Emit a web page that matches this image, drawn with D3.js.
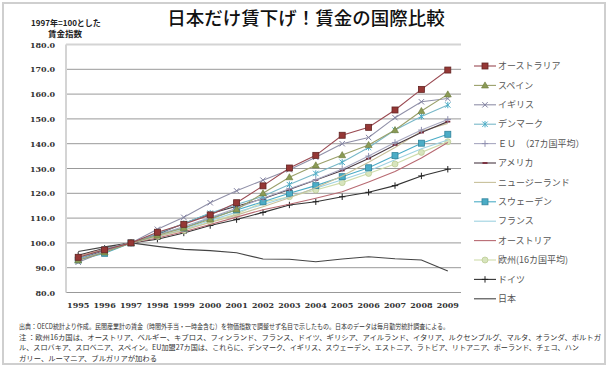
<!DOCTYPE html>
<html><head><meta charset="utf-8">
<script src="https://cdn.jsdelivr.net/npm/d3@7"></script>
<style>
html,body{margin:0;padding:0;background:#fff;}
svg{display:block;}
</style></head>
<body>
<svg id="chart" width="608" height="370"></svg>
<script>
const years = [1995,1996,1997,1998,1999,2000,2001,2002,2003,2004,2005,2006,2007,2008,2009];
const yTicks = [80,90,100,110,120,130,140,150,160,170,180];
const seriesNames = ["オーストラリア","スペイン","イギリス","デンマーク","ＥＵ　（27カ国平均）","アメリカ","ニュージーランド","スウェーデン","フランス","オーストリア","欧州(16カ国平均)","ドイツ","日本"];
const australia = [94.2,97.2,100,104.3,107.5,111.3,116.2,123.0,130.2,135.3,143.4,146.6,153.6,161.9,169.7];
const spain     = [93.0,96.2,100,103.0,106.0,109.5,113.5,120.0,126.5,131.3,135.4,139.5,145.5,153.2,159.9];
const uk        = [92.2,96.5,100,105.5,110.3,116.2,121.0,125.3,129.5,134.5,140.0,142.5,150.5,156.9,158.2];
const denmark   = [93.5,97.5,100,103.8,107.8,112.0,115.5,118.8,123.5,128.0,132.5,138.5,145.5,151.0,155.6];
const eu27      = [93.2,96.6,100,103.2,106.6,110.2,114.0,118.0,121.8,125.5,129.8,135.0,140.5,145.5,149.8];
const usa       = [93.6,96.8,100,103.5,107.8,111.8,114.8,117.8,121.5,125.4,129.2,134.0,139.5,144.5,148.9];
const nz        = [94.4,97.4,100,102.6,105.2,108.2,111.2,114.6,118.2,122.2,127.0,132.5,138.5,145.0,148.2];
const sweden    = [93.1,95.8,100,103.6,106.0,110.0,113.3,116.6,120.0,123.1,126.7,130.3,135.2,140.2,143.8];
const france    = [94.0,97.0,100,102.6,105.5,109.0,112.4,115.5,118.6,122.0,125.5,129.0,133.5,138.0,141.5];
const austria   = [94.6,97.6,100,102.0,104.5,107.4,110.4,113.4,115.6,118.0,120.6,124.6,128.8,134.2,140.5];
const europe16  = [94.0,97.0,100,102.6,105.0,108.5,111.6,116.4,118.6,121.3,124.3,128.0,131.8,136.5,140.8];
const germany   = [95.0,97.8,100,101.5,104.0,107.0,109.4,112.3,115.3,116.6,118.6,120.4,123.1,127.0,129.7];
const japan     = [96.5,98.4,100,98.6,97.4,96.9,96.0,93.5,93.4,92.4,93.5,94.4,93.6,93.1,88.7];
const footLines = [
 "出典：OECD統計より作成。民間産業計の賃金（時間外手当・一時金含む）を物価指数で調整せず名目で示したもの。日本のデータは毎月勤労統計調査による。",
 "注 ：欧州16カ国は、オーストリア、ベルギー、キプロス、フィンランド、フランス、ドイツ、ギリシア、アイルランド、イタリア、ルクセンブルグ、マルタ、オランダ、ポルトガ",
 "ル、スロバキア、スロベニア、スペイン。EU加盟27カ国は、これらに、デンマーク、イギリス、スウェーデン、エストニア、ラトビア、リトアニア、ポーランド、チェコ、ハン",
 "ガリー、ルーマニア、ブルガリアが加わる"
];

const values = [australia,spain,uk,denmark,eu27,usa,nz,sweden,france,austria,europe16,germany,japan];
const styles = [
 {c:"#9a4a52", m:"square", f:"#953735", s:"#632523"},
 {c:"#9aa06a", m:"triangle", f:"#8a9a55", s:"#6b7a3a"},
 {c:"#9090a8", m:"x", f:"none", s:"#8080a0"},
 {c:"#78b8c8", m:"star", f:"none", s:"#4bacc6"},
 {c:"#a8a8c0", m:"plus", f:"none", s:"#9090b0"},
 {c:"#4a3a44", m:"dash", f:"#7b2c3b", s:"#7b2c3b"},
 {c:"#c8c09a", m:null},
 {c:"#4bacc6", m:"square", f:"#4bacc6", s:"#31849b"},
 {c:"#9ed2e0", m:null},
 {c:"#b86a72", m:null},
 {c:"#cfdcab", m:"circle", f:"#d7e4bd", s:"#b8c88c"},
 {c:"#333333", m:"plus", f:"none", s:"#222"},
 {c:"#444444", m:null}
];

const svg = d3.select("#chart");
const font = "'Noto Sans CJK JP','Noto Sans',sans-serif";

// outer frame
svg.append("rect").attr("x",3).attr("y",3).attr("width",602).attr("height",361)
  .attr("fill","#fff").attr("stroke","#cfcfcf").attr("stroke-width",2);

const x = d3.scaleBand().domain(years).range([65,461]).padding(0);
const y = d3.scaleLinear().domain([80,180]).range([292.5,44.5]);
const cx = d => x(d) + x.bandwidth()/2;

// gridlines
svg.append("g").selectAll("line").data(yTicks.filter(t=>t<180)).join("line")
  .attr("x1",66).attr("x2",461).attr("y1",d=>y(d)).attr("y2",d=>y(d))
  .attr("stroke","#999").attr("stroke-width",1);
// plot border top/left
svg.append("line").attr("x1",66).attr("x2",461).attr("y1",y(180)).attr("y2",y(180)).attr("stroke","#d4d4d4").attr("stroke-width",2);
svg.append("line").attr("x1",66).attr("x2",66).attr("y1",y(180)).attr("y2",y(80)).attr("stroke","#d4d4d4").attr("stroke-width",2);

// axes
const yAxis = svg.append("g").attr("transform","translate(66,0)")
  .call(d3.axisLeft(y).tickValues(yTicks).tickSize(0).tickPadding(11).tickFormat(d3.format(".1f")));
yAxis.select(".domain").remove();
yAxis.selectAll("text").attr("font-family","'DejaVu Serif',serif").attr("font-weight","bold").attr("font-size","8px").attr("fill","#333");

const xAxis = svg.append("g").attr("transform",`translate(0,${y(80)})`)
  .call(d3.axisBottom(x).tickSize(0).tickPadding(10));
xAxis.select(".domain").remove();
xAxis.selectAll("text").attr("font-family","'DejaVu Serif',serif").attr("font-weight","bold").attr("font-size","8px").attr("fill","#333");

// marker drawing
function drawMarker(g, st, px, py){
  if(!st.m) return;
  const r = 3;
  if(st.m==="square"){
    g.append("rect").attr("x",px-r).attr("y",py-r).attr("width",2*r).attr("height",2*r).attr("fill",st.f).attr("stroke",st.s).attr("stroke-width",0.8);
  } else if(st.m==="triangle"){
    g.append("path").attr("d",`M${px},${py-3.5}L${px+3.5},${py+2.6}L${px-3.5},${py+2.6}Z`).attr("fill",st.f).attr("stroke",st.s).attr("stroke-width",0.6);
  } else if(st.m==="x"){
    g.append("path").attr("d",`M${px-2.7},${py-2.7}L${px+2.7},${py+2.7}M${px-2.7},${py+2.7}L${px+2.7},${py-2.7}`).attr("stroke",st.s).attr("stroke-width",1);
  } else if(st.m==="star"){
    g.append("path").attr("d",`M${px-2.7},${py-2.7}L${px+2.7},${py+2.7}M${px-2.7},${py+2.7}L${px+2.7},${py-2.7}M${px},${py-3.2}L${px},${py+3.2}`).attr("stroke",st.s).attr("stroke-width",1);
  } else if(st.m==="plus"){
    g.append("path").attr("d",`M${px-3.2},${py}L${px+3.2},${py}M${px},${py-3.2}L${px},${py+3.2}`).attr("stroke",st.s).attr("stroke-width",1);
  } else if(st.m==="dash"){
    g.append("rect").attr("x",px-2.5).attr("y",py-0.9).attr("width",5).attr("height",1.8).attr("fill",st.f);
  } else if(st.m==="circle"){
    g.append("circle").attr("cx",px).attr("cy",py).attr("r",3).attr("fill",st.f).attr("stroke",st.s).attr("stroke-width",0.7);
  }
}

const line = d3.line().x((d,i)=>cx(years[i])).y(d=>y(d));
for(let k=values.length-1;k>=0;k--){
  const st = styles[k];
  const g = svg.append("g");
  g.append("path").datum(values[k]).attr("d",line).attr("fill","none").attr("stroke",st.c).attr("stroke-width",1.1);
  values[k].forEach((v,i)=>drawMarker(g,st,cx(years[i]),y(v)));
}

// legend
const lg = svg.append("g");
seriesNames.forEach((name,i)=>{
  const ly = 66 + i*19.4;
  const st = styles[i];
  lg.append("line").attr("x1",474).attr("x2",496).attr("y1",ly).attr("y2",ly).attr("stroke",st.c).attr("stroke-width",1.1);
  drawMarker(lg,st,485,ly);
  lg.append("text").attr("x",498).attr("y",ly).attr("dy","0.35em")
    .attr("font-family",font).attr("font-size","9px").attr("fill","#555").text(name);
});

// title
svg.append("text").attr("x",306).attr("y",19).attr("dy","0.35em").attr("text-anchor","middle")
  .attr("font-family",font).attr("font-weight","500").attr("font-size","18.5px").attr("fill","#111").text("日本だけ賃下げ！賃金の国際比較");

// y axis title
svg.append("text").attr("x",66).attr("y",23).attr("dy","0.35em").attr("text-anchor","middle")
  .attr("font-family",font).attr("font-weight","bold").attr("font-size","8px").attr("fill","#222").text("1997年=100とした");
svg.append("text").attr("x",65).attr("y",34.5).attr("dy","0.35em").attr("text-anchor","middle")
  .attr("font-family",font).attr("font-weight","bold").attr("font-size","8.5px").attr("fill","#222").text("賃金指数");

// footnotes
const footY = [327,337.5,348,358.5];
const footW = [430,582,560,138];
footLines.forEach((t,i)=>{
  svg.append("text").attr("x",19).attr("y",footY[i]).attr("dy","0.35em")
    .attr("font-family",font).attr("font-size","7px").attr("fill","#333")
    .attr("textLength",footW[i]).attr("lengthAdjust","spacingAndGlyphs").text(t);
});
</script>
</body></html>
